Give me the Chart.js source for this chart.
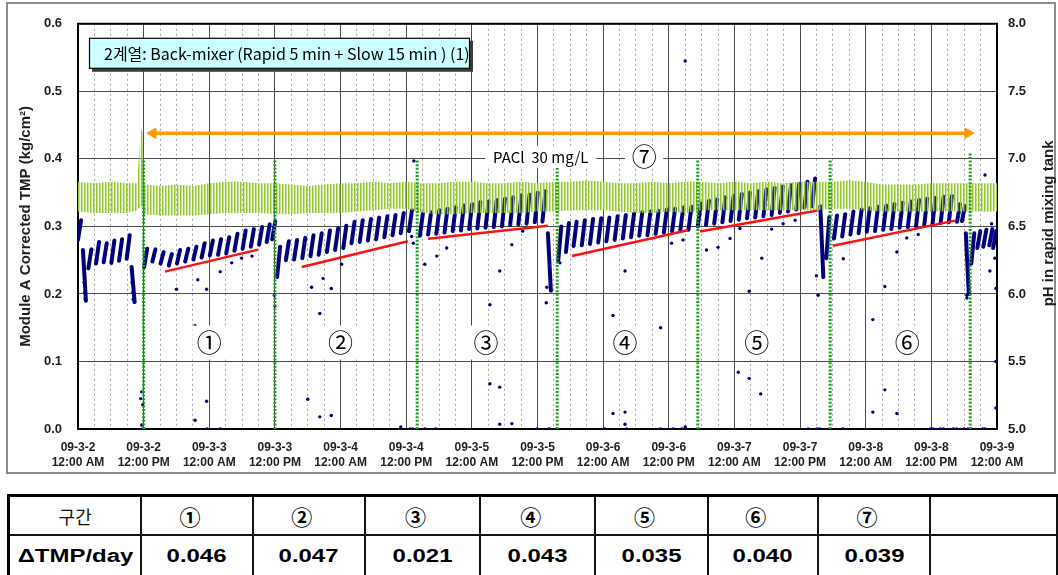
<!DOCTYPE html>
<html>
<head>
<meta charset="utf-8">
<script src="https://cdn.jsdelivr.net/npm/chart.js@4.4.1/dist/chart.umd.min.js"></script>
<style>
  html, body { margin: 0; padding: 0; background: #fff; width: 1058px; height: 575px; overflow: hidden; }
  #wrap { position: relative; width: 1058px; height: 575px; }
  #chart { position: absolute; left: 0; top: 0; width: 1058px; height: 480px; }
  #rates { position: absolute; left: 7px; top: 494px; border-collapse: collapse; table-layout: fixed;
           border-top: 3px solid #000; border-left: 3px solid #000; }
  #rates td { border: 2px solid #111; text-align: center; padding: 0; white-space: nowrap; }
  #rates tr.head td { height: 37px; }
  #rates tr.vals td { height: 41px; }
  #rates .kr { font: 400 18px "Noto Sans CJK KR", sans-serif; color: #111; }
  #rates .circ { font: 700 21px "Noto Sans CJK KR", sans-serif; color: #000; padding-right: 14px; }
  #rates .num span { display: inline-block; transform: scaleX(1.33);
                     font: 700 18px "Liberation Sans", Arial, sans-serif; color: #000; }
</style>
</head>
<body>
<div id="wrap">
  <canvas id="chart" width="1058" height="480"></canvas>
  <table id="rates"></table>
</div>
<script>
// Time axis: hours counted from 09-3-2 12:00 AM, labelled every 12 h
const tickDates = ['09-3-2', '09-3-2', '09-3-3', '09-3-3', '09-3-4', '09-3-4', '09-3-5', '09-3-5',
                   '09-3-6', '09-3-6', '09-3-7', '09-3-7', '09-3-8', '09-3-8', '09-3-9'];
const tickTimes = ['12:00 AM', '12:00 PM', '12:00 AM', '12:00 PM', '12:00 AM', '12:00 PM', '12:00 AM', '12:00 PM',
                   '12:00 AM', '12:00 PM', '12:00 AM', '12:00 PM', '12:00 AM', '12:00 PM', '12:00 AM'];

// Module A corrected TMP, one stroke per filtration cycle: [start hour, start value, end value]
const tmpCycles = [
  [0.0, 0.280, 0.309], [0.9, 0.265, 0.190],
  [1.9, 0.238, 0.266], [3.3, 0.245, 0.277], [4.7, 0.247, 0.275], [6.1, 0.246, 0.279],
  [7.5, 0.249, 0.281], [8.9, 0.252, 0.287], [9.8, 0.240, 0.188],
  [12.1, 0.240, 0.267], [13.6, 0.248, 0.266], [15.1, 0.245, 0.262], [16.6, 0.242, 0.259],
  [18.1, 0.245, 0.265], [19.6, 0.248, 0.267], [21.1, 0.251, 0.270], [22.6, 0.254, 0.275],
  [24.1, 0.257, 0.279], [25.6, 0.258, 0.281], [27.1, 0.260, 0.284], [28.6, 0.264, 0.289],
  [30.1, 0.267, 0.294], [31.6, 0.270, 0.296], [33.1, 0.273, 0.299], [34.5, 0.277, 0.303],
  [35.5, 0.281, 0.307],
  [36.4, 0.225, 0.270], [38.0, 0.250, 0.278], [39.5, 0.251, 0.280], [41.0, 0.253, 0.283],
  [42.5, 0.256, 0.287], [44.0, 0.258, 0.290], [45.5, 0.262, 0.294], [47.0, 0.265, 0.297],
  [48.5, 0.268, 0.301], [50.0, 0.275, 0.307], [51.5, 0.277, 0.309], [53.0, 0.279, 0.311],
  [54.5, 0.281, 0.313], [56.0, 0.284, 0.315], [57.5, 0.287, 0.317], [59.0, 0.290, 0.320],
  [60.5, 0.293, 0.324],
  [62.5, 0.286, 0.319], [64.0, 0.288, 0.321], [65.5, 0.289, 0.324], [67.0, 0.291, 0.326],
  [68.5, 0.293, 0.328], [70.0, 0.294, 0.331], [71.5, 0.296, 0.333], [73.0, 0.297, 0.336],
  [74.5, 0.298, 0.337], [76.0, 0.299, 0.339], [77.5, 0.300, 0.341], [79.0, 0.302, 0.343],
  [80.5, 0.303, 0.346], [82.0, 0.304, 0.347], [83.5, 0.306, 0.350], [84.9, 0.307, 0.352],
  [85.9, 0.290, 0.205],
  [87.8, 0.250, 0.300], [89.2, 0.262, 0.305], [90.6, 0.271, 0.307], [92.1, 0.272, 0.309],
  [93.6, 0.274, 0.311], [95.1, 0.276, 0.312], [96.6, 0.278, 0.313], [98.1, 0.280, 0.315],
  [99.6, 0.282, 0.317], [101.1, 0.284, 0.319], [102.6, 0.286, 0.321], [104.1, 0.287, 0.322],
  [105.6, 0.289, 0.323], [107.1, 0.291, 0.325], [108.6, 0.293, 0.326], [110.1, 0.294, 0.328],
  [111.6, 0.295, 0.329],
  [113.3, 0.300, 0.334], [114.8, 0.302, 0.338], [116.3, 0.304, 0.340], [117.8, 0.306, 0.343],
  [119.3, 0.308, 0.345], [120.8, 0.310, 0.348], [122.3, 0.312, 0.350], [123.8, 0.313, 0.352],
  [125.3, 0.315, 0.355], [126.8, 0.317, 0.357], [128.3, 0.320, 0.359], [129.8, 0.322, 0.361],
  [131.3, 0.325, 0.363], [132.8, 0.328, 0.366], [134.2, 0.330, 0.371],
  [135.7, 0.330, 0.225], [136.8, 0.253, 0.314],
  [138.2, 0.282, 0.316], [139.7, 0.285, 0.318], [141.2, 0.288, 0.322], [142.7, 0.290, 0.325],
  [144.2, 0.292, 0.327], [145.7, 0.293, 0.329], [147.2, 0.295, 0.331], [148.7, 0.296, 0.333],
  [150.2, 0.298, 0.335], [151.7, 0.299, 0.337], [153.2, 0.300, 0.339], [154.7, 0.302, 0.341],
  [156.2, 0.303, 0.342], [157.7, 0.305, 0.344], [159.2, 0.306, 0.345], [160.7, 0.307, 0.333],
  [161.6, 0.308, 0.330], [162.3, 0.290, 0.200],
  [163.3, 0.245, 0.290], [164.4, 0.268, 0.293], [165.5, 0.270, 0.295], [166.6, 0.272, 0.296],
  [167.3, 0.268, 0.293]
];
// Duration of the rising part of one filtration cycle (h)
const riseHours = 0.55;

// Isolated TMP readings: [hour, value]
const tmpStray = [
  [1.0, 0.243], [1.1, 0.217], [1.2, 0.202], [1.3, 0.193],
  [9.8, 0.236], [9.9, 0.217], [10.0, 0.202], [10.1, 0.192], [10.3, 0.188],
  [11.46, 0.045], [11.65, 0.055], [11.83, 0.036], [11.65, 0.006], [11.83, 0.0],
  [18.0, 0.207], [21.9, 0.221], [23.5, 0.207], [26.0, 0.233], [28.1, 0.246], [29.9, 0.253], [31.8, 0.256],
  [21.4, 0.153], [23.5, 0.041], [21.4, 0.013], [23.6, 0.0], [26.0, 0.0],
  [35.9, 0.198], [36.0, 0.182],
  [42.7, 0.210], [46.3, 0.208], [44.2, 0.171], [42.0, 0.044], [44.2, 0.018], [46.3, 0.020],
  [44.8, 0.223], [48.2, 0.244],
  [59.0, 0.003], [60.7, 0.0], [61.2, 0.0], [61.4, 0.397], [61.0, 0.285], [61.3, 0.275],
  [63.4, 0.244], [65.6, 0.256], [67.4, 0.268], [63.4, 0.0], [65.4, 0.0],
  [77.1, 0.234], [79.3, 0.273], [81.3, 0.293], [75.3, 0.184], [85.7, 0.210], [85.6, 0.187],
  [75.3, 0.067], [77.1, 0.062], [77.1, 0.007], [79.3, 0.008], [83.9, 0.0], [86.1, 0.0],
  [88.1, 0.246], [100.0, 0.234], [108.5, 0.275], [110.6, 0.280], [97.8, 0.168], [106.5, 0.150],
  [97.8, 0.023], [100.0, 0.025], [100.0, 0.007], [100.3, 0.0], [96.3, 0.0], [106.5, 0.0],
  [108.8, 0.0], [110.4, 0.0], [111.0, 0.003],
  [111.0, 0.545],
  [114.9, 0.265], [117.0, 0.269], [119.2, 0.282], [121.0, 0.297], [125.0, 0.253], [126.8, 0.296],
  [128.9, 0.304], [131.1, 0.309],
  [122.7, 0.204], [120.7, 0.084], [122.7, 0.075], [124.8, 0.052],
  [133.5, 0.0], [135.1, 0.0], [135.6, 0.0], [139.8, 0.0],
  [135.0, 0.227], [135.3, 0.198],
  [139.9, 0.252], [147.5, 0.211], [149.7, 0.262], [151.5, 0.283], [153.6, 0.288],
  [145.3, 0.162], [147.5, 0.058], [145.3, 0.025], [149.7, 0.023],
  [155.8, 0.0], [156.3, 0.0], [157.6, 0.0], [158.2, 0.0], [160.0, 0.0], [160.6, 0.0],
  [162.0, 0.0], [162.7, 0.0], [163.3, 0.0], [165.4, 0.0], [165.8, 0.0],
  [162.5, 0.198], [162.5, 0.194],
  [165.8, 0.376], [167.6, 0.253], [166.7, 0.234], [167.0, 0.304], [167.8, 0.208],
  [167.8, 0.100], [167.8, 0.031]
];

// pH in the rapid mixing tank: upper and lower swing of the dosing oscillation
const phHours = [0, 3, 6, 9, 10.8, 11.2, 11.5, 11.8, 12.1, 15, 18, 21, 24, 27, 30, 33, 36, 39, 42, 45,
                 48, 51, 54, 57, 60, 63, 66, 69, 72, 75, 78, 81, 84, 87, 90, 93, 96, 99, 102, 105,
                 108, 111, 114, 117, 120, 123, 126, 129, 132, 135, 138, 141, 144, 147, 150, 153,
                 156, 159, 162, 165, 168];
const phHigh = [6.83, 6.82, 6.83, 6.82, 6.82, 7.05, 7.22, 7.20, 6.81, 6.80, 6.81, 6.80, 6.82, 6.83,
                6.83, 6.82, 6.82, 6.81, 6.80, 6.81, 6.82, 6.82, 6.83, 6.82, 6.83, 6.82, 6.82, 6.83,
                6.83, 6.82, 6.82, 6.83, 6.82, 6.83, 6.83, 6.84, 6.83, 6.82, 6.82, 6.83, 6.82, 6.83,
                6.83, 6.82, 6.83, 6.82, 6.83, 6.82, 6.83, 6.83, 6.83, 6.84, 6.83, 6.81, 6.81, 6.81,
                6.82, 6.82, 6.82, 6.82, 6.82];
const phLow = [6.61, 6.60, 6.60, 6.60, 6.62, 6.64, 6.66, 6.64, 6.59, 6.58, 6.58, 6.58, 6.59, 6.60,
               6.60, 6.60, 6.59, 6.59, 6.60, 6.60, 6.60, 6.61, 6.62, 6.63, 6.63, 6.60, 6.59, 6.59,
               6.60, 6.60, 6.60, 6.60, 6.61, 6.61, 6.62, 6.62, 6.62, 6.61, 6.60, 6.60, 6.61, 6.60,
               6.62, 6.62, 6.62, 6.62, 6.62, 6.62, 6.62, 6.62, 6.63, 6.63, 6.62, 6.61, 6.61, 6.61,
               6.61, 6.61, 6.61, 6.61, 6.61];

// Chemical cleaning events (hour) and the height of their marker lines (TMP scale)
const cleaningHours = [12, 36, 62, 87.6, 113.3, 137.5, 163.1];
const cleaningReach = [0.4, 0.4, 0.4, 0.4, 0.4, 0.4, 0.408];

// Sections and their TMP increase per day
const sectionNames = ['①', '②', '③', '④', '⑤', '⑥', '⑦'];
const tmpRatePerDay = [0.046, 0.047, 0.021, 0.043, 0.035, 0.040, 0.039];

// Trend lines of sections ①-⑥: start/end hour and starting TMP
const trendFrom = [15.9, 40.9, 64.0, 90.3, 113.7, 138.0];
const trendTo = [32.9, 60.3, 85.9, 111.5, 135.2, 160.3];
const trendStartTMP = [0.233, 0.240, 0.2817, 0.2562, 0.2923, 0.2714];

// PACl 30 mg/L dosing period (arrow) on the TMP scale
const paclSpan = [13.7, 162.7];
const paclLevel = 0.438;

const FONT = '"Liberation Sans", Arial, sans-serif';
const KFONT = '"Noto Sans CJK KR", sans-serif';

// ---------- derived point lists ----------
const cyclePoints = [];
tmpCycles.forEach(([t, a, b]) => {
  cyclePoints.push({ x: t, y: a }, { x: t + riseHours, y: b }, { x: t + riseHours, y: null });
});
const strayPoints = tmpStray.map(([t, v]) => ({ x: t, y: v }));
const trendPoints = [];
trendFrom.forEach((f, i) => {
  const t = trendTo[i];
  trendPoints.push({ x: f, y: trendStartTMP[i] },
                   { x: t, y: trendStartTMP[i] + tmpRatePerDay[i] * (t - f) / 24 },
                   { x: t, y: null });
});
const cleaningPoints = [];
cleaningHours.forEach((h, i) => {
  cleaningPoints.push({ x: h, y: 0 }, { x: h, y: cleaningReach[i] }, { x: h, y: null });
});
const phLowPoints = phHours.map((h, i) => ({ x: h, y: phLow[i] }));
const phHighPoints = phHours.map((h, i) => ({ x: h, y: phHigh[i] }));

// vertical hatch used for the pH band
function hatch() {
  const c = document.createElement('canvas');
  c.width = 3; c.height = 1;
  const g = c.getContext('2d');
  g.fillStyle = '#92c62c'; g.fillRect(0, 0, 1, 1);
  g.fillStyle = 'rgba(146,198,44,0.5)'; g.fillRect(1, 0, 1, 1);
  g.fillStyle = 'rgba(180,220,100,0.2)'; g.fillRect(2, 0, 1, 1);
  return g.createPattern(c, 'repeat');
}

// ---------- frame, plot border, annotations ----------
const decorations = {
  id: 'decorations',
  beforeDraw(chart) {
    const c = chart.ctx;
    c.save();
    c.fillStyle = '#fff';
    c.fillRect(0, 0, chart.width, chart.height);
    c.strokeStyle = '#8c8c8c';
    c.lineWidth = 2;
    c.strokeRect(7, 3, chart.width - 10, 470);
    c.restore();
  },
  beforeDatasetsDraw(chart) {
    const { ctx: c, chartArea: a } = chart;
    c.save();
    c.strokeStyle = '#000';
    c.lineWidth = 2;
    c.strokeRect(a.left, a.top, a.right - a.left, a.bottom - a.top);
    c.restore();
  },
  afterDatasetsDraw(chart) {
    const { ctx: c, chartArea: a } = chart;
    const xs = chart.scales.x, ys = chart.scales.y;
    c.save();
    const boxed = (text, h, v, w, ht, font) => {
      const px = xs.getPixelForValue(h), py = ys.getPixelForValue(v);
      c.fillStyle = '#fff';
      c.fillRect(px - w / 2, py - ht / 2, w, ht);
      c.fillStyle = '#000';
      c.font = font;
      c.textAlign = 'center';
      c.textBaseline = 'middle';
      c.fillText(text, px, py);
    };
    // section numbers
    const secAt = [24, 48, 74.6, 100, 124.1, 151.6];
    secAt.forEach((h, i) => boxed(sectionNames[i], h, 0.128, 34, 34, '25px ' + KFONT));
    boxed('PACl  30 mg/L', 84.6, 0.403, 111, 22, '15px ' + KFONT);
    boxed(sectionNames[6], 103.5, 0.403, 38, 22, '25px ' + KFONT);

    // series title box
    const bx = a.left + 11, by = a.top + 14, bw = 381, bh = 31;
    c.fillStyle = '#3c3c3c';
    c.fillRect(bx + 3, by + 3, bw, bh);
    c.fillStyle = '#ccffff';
    c.fillRect(bx, by, bw, bh);
    c.strokeStyle = '#000';
    c.lineWidth = 1.2;
    c.strokeRect(bx + 0.5, by + 0.5, bw - 1, bh - 1);
    c.fillStyle = '#000';
    c.font = '16px ' + KFONT;
    c.textAlign = 'left';
    c.textBaseline = 'middle';
    c.fillText('2계열: Back-mixer (Rapid 5 min + Slow 15 min ) (1)', bx + 15, by + bh / 2 + 1);

    // right axis title, reading bottom to top
    c.translate(1049, (a.top + a.bottom) / 2 - 3);
    c.rotate(-Math.PI / 2);
    c.font = 'bold 15px ' + FONT;
    c.fillStyle = '#1e1e1e';
    c.textAlign = 'center';
    c.textBaseline = 'middle';
    c.fillText('pH in rapid mixing tank', 0, 0);
    c.restore();
  }
};

const tickFont = { family: FONT, size: 12, weight: 'bold', lineHeight: 1.25 };
const valueFont = { family: FONT, size: 13, weight: 'bold' };

new Chart(document.getElementById('chart'), {
  type: 'line',
  data: {
    datasets: [
      { label: 'TMP', data: cyclePoints, xAxisID: 'x', yAxisID: 'y', order: 6,
        borderColor: '#00007f', borderWidth: 4, pointRadius: 0, spanGaps: false,
        borderCapStyle: 'round', tension: 0 },
      { label: 'TMP (single)', data: strayPoints, xAxisID: 'x', yAxisID: 'y', order: 5,
        showLine: false, pointRadius: 1.7, pointBorderWidth: 0,
        pointBackgroundColor: '#00007f', pointBorderColor: '#00007f' },
      { label: 'trend', data: trendPoints, xAxisID: 'x', yAxisID: 'y', order: 4,
        borderColor: '#ff1010', borderWidth: 2.5, pointRadius: 0, spanGaps: false },
      { label: 'pH low', data: phLowPoints, xAxisID: 'x', yAxisID: 'yPh', order: 3,
        borderWidth: 0, pointRadius: 0, fill: false },
      { label: 'pH', data: phHighPoints, xAxisID: 'x', yAxisID: 'yPh', order: 3,
        borderWidth: 0, pointRadius: 0, fill: '-1', backgroundColor: hatch() },
      { label: 'cleaning', data: cleaningPoints, xAxisID: 'x', yAxisID: 'y', order: 2,
        borderColor: '#1e9e1e', borderWidth: 3, borderDash: [2, 1.6], pointRadius: 0, spanGaps: false },
      { label: 'PACl', data: paclSpan.map(h => ({ x: h, y: paclLevel })), xAxisID: 'x', yAxisID: 'y', order: 1,
        borderColor: '#ff9a00', borderWidth: 3.5, pointStyle: 'triangle', pointRadius: 6,
        pointRotation: [270, 90], pointBackgroundColor: '#ff9a00', pointBorderColor: '#ff9a00',
        pointBorderWidth: 1 }
    ]
  },
  options: {
    responsive: false,
    animation: false,
    events: [],
    layout: { padding: { top: 17, left: 0, right: 0, bottom: 0 } },
    plugins: { legend: { display: false }, tooltip: { enabled: false } },
    scales: {
      x: {
        type: 'linear', min: 0, max: 168, position: 'bottom',
        afterFit: s => { s.height = 51; },
        ticks: {
          stepSize: 12, autoSkip: false, maxRotation: 0, minRotation: 0, padding: 11,
          color: '#1e1e1e', font: tickFont,
          callback: v => { const i = Math.round(v / 12); return [tickDates[i], tickTimes[i]]; }
        },
        grid: { color: '#4a4a4a', lineWidth: 1, drawTicks: false },
        border: { display: false }
      },
      xMinor: {
        type: 'linear', min: 0, max: 168, position: 'bottom',
        afterFit: s => { s.height = 0; },
        ticks: { stepSize: 3, display: false },
        grid: {
          color: c => (c.tick && Math.round(c.tick.value) % 12 !== 0) ? '#a4a4a4' : 'rgba(0,0,0,0)',
          lineWidth: 1, drawTicks: false
        },
        border: { display: false, dash: [2, 3] }
      },
      y: {
        type: 'linear', position: 'left', min: 0, max: 0.6,
        afterFit: s => { s.width = 78; },
        ticks: { stepSize: 0.1, padding: 16, color: '#1e1e1e', font: valueFont, callback: v => v.toFixed(1) },
        grid: { color: '#4a4a4a', lineWidth: 1, drawTicks: false },
        border: { display: false },
        title: {
          display: true, text: 'Module A Corrected TMP (kg/cm²)', color: '#1e1e1e',
          font: { family: FONT, size: 15, weight: 'bold', lineHeight: 1.2 },
          padding: { top: 17, bottom: 0 }
        }
      },
      yPh: {
        type: 'linear', position: 'right', min: 5, max: 8,
        afterFit: s => { s.width = 61; },
        ticks: { stepSize: 0.5, padding: 11, color: '#1e1e1e', font: valueFont, callback: v => v.toFixed(1) },
        grid: { drawOnChartArea: false, drawTicks: false },
        border: { display: false }
      }
    }
  },
  plugins: [decorations]
});

// ---------- ΔTMP/day table ----------
(function buildTable() {
  const widths = [134, 113, 114, 117, 117, 114, 112, 114, 130];
  const t = document.getElementById('rates');
  const cg = document.createElement('colgroup');
  widths.forEach(w => { const col = document.createElement('col'); col.style.width = w + 'px'; cg.appendChild(col); });
  t.appendChild(cg);
  const head = document.createElement('tr'); head.className = 'head';
  const vals = document.createElement('tr'); vals.className = 'vals';
  const cell = (row, html, cls) => { const td = document.createElement('td'); td.className = cls; td.innerHTML = html; row.appendChild(td); };
  cell(head, '구간', 'kr');
  cell(vals, '<span>ΔTMP/day</span>', 'num');
  sectionNames.forEach((s, i) => {
    cell(head, s, 'circ');
    cell(vals, '<span>' + tmpRatePerDay[i].toFixed(3) + '</span>', 'num');
  });
  cell(head, '', 'kr');
  cell(vals, '', 'num');
  t.appendChild(head);
  t.appendChild(vals);
})();
</script>
</body>
</html>
